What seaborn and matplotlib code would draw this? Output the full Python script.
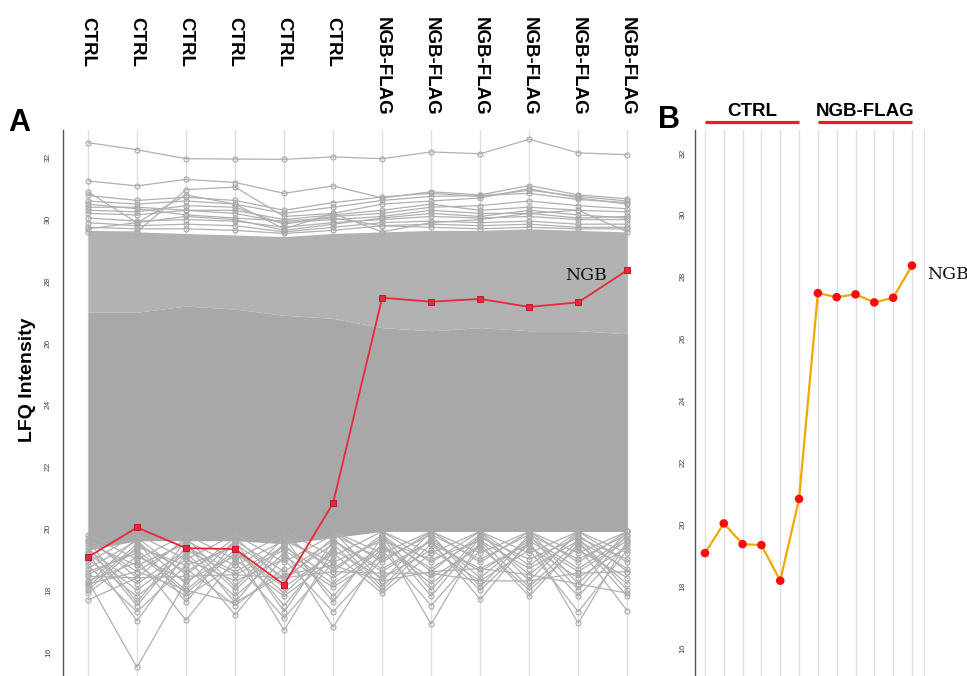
import numpy as np
import pandas as pd
import matplotlib
matplotlib.use("Agg")
import matplotlib.pyplot as plt
import seaborn as sns
from matplotlib.transforms import blended_transform_factory

# ---------------- data ----------------
samples = ["CTRL"] * 6 + ["NGB-FLAG"] * 6
pos = list(range(len(samples)))
ngb_lfq = [19.07, 20.03, 19.36, 19.33, 18.18, 20.82, 27.47, 27.34, 27.43, 27.17, 27.32, 28.36]
y_ticks = [16, 18, 20, 22, 24, 26, 28, 30, 32]

# clearly visible individual protein profiles (top of the distribution)
top1 = [32.49, 32.26, 31.97, 31.96, 31.95, 32.03, 31.97, 32.19, 32.13, 32.60, 32.16, 32.10]
top2 = [31.25, 31.09, 31.30, 31.20, 30.85, 31.09, 30.70, 30.90, 30.80, 31.10, 30.80, 30.67]
up3 = [30.78, 30.62, 30.72, 30.62, 30.30, 30.55, 30.73, 30.85, 30.75, 30.95, 30.75, 30.60]
up4 = [30.60, 30.50, 30.60, 30.50, 30.20, 30.40, 30.62, 30.75, 30.78, 30.85, 30.65, 30.55]
up5 = [29.60, 29.60, 30.97, 31.05, 30.10, 30.20, 30.50, 30.60, 30.70, 31.00, 30.70, 30.50]
up6 = [30.40, 30.40, 30.30, 30.30, 30.00, 30.15, 30.30, 30.50, 30.30, 30.40, 30.30, 30.25]
up7 = [30.20, 30.15, 30.30, 30.20, 29.90, 30.00, 30.10, 30.30, 30.20, 30.20, 30.05, 30.10]
up8 = [30.05, 29.95, 30.00, 29.95, 29.75, 29.90, 30.00, 30.10, 30.05, 30.10, 30.00, 30.00]
up9 = [29.90, 29.80, 29.85, 29.80, 29.60, 29.75, 29.90, 29.95, 29.90, 29.95, 29.85, 29.85]
up10 = [30.90, 29.90, 30.80, 30.50, 29.70, 30.20, 29.60, 29.90, 30.00, 30.20, 30.30, 29.60]
up11 = [29.75, 29.70, 29.70, 29.65, 29.55, 29.65, 29.80, 29.85, 29.80, 29.85, 29.75, 29.75]
up12 = [30.30, 30.25, 30.45, 30.40, 29.85, 30.10, 30.20, 30.40, 30.45, 30.60, 30.45, 30.35]
up13 = [29.70, 29.90, 30.10, 30.00, 29.65, 29.85, 30.05, 30.20, 30.10, 30.30, 30.15, 30.05]
up14 = [30.50, 30.35, 30.15, 30.05, 29.95, 30.05, 29.80, 29.75, 29.70, 29.75, 29.70, 29.70]
low1 = [18.45, 18.40, 18.45, 18.50, 18.40, 18.60, 18.55, 18.55, 18.30, 18.30, 18.55, 18.60]
low2 = [18.20, 18.60, 18.00, 17.60, 18.50, 18.80, 18.30, 18.60, 18.70, 18.50, 18.20, 17.90]

# dense bulk of the distribution (per sample)
band_top = [29.65, 29.60, 29.55, 29.50, 29.45, 29.55, 29.60, 29.65, 29.65, 29.70, 29.65, 29.60]
core_top = [27.00, 27.00, 27.20, 27.10, 26.90, 26.80, 26.50, 26.40, 26.50, 26.40, 26.40, 26.30]
band_bottom = [19.30, 19.60, 19.60, 19.60, 19.50, 19.70, 19.90, 19.90, 19.90, 19.90, 19.90, 19.90]

# low (imputed) values per sample and the level of the neighbouring samples
dip_depth = [
    [18.9, 18.7, 18.6, 18.5, 18.3, 18.2, 18.1, 18.0, 17.9, 17.68],
    [19.0, 18.8, 18.6, 18.4, 18.2, 18.0, 17.8, 17.6, 17.5, 17.3, 17.0, 15.5],
    [19.0, 18.8, 18.6, 18.5, 18.3, 18.2, 18.0, 17.9, 17.8, 17.6, 17.03],
    [19.0, 18.8, 18.6, 18.5, 18.3, 18.1, 18.0, 17.8, 17.6, 17.5, 17.2],
    [18.9, 18.6, 18.4, 18.3, 18.1, 17.9, 17.8, 17.5, 17.3, 17.1, 16.7],
    [19.1, 18.9, 18.7, 18.6, 18.4, 18.2, 18.1, 17.8, 17.6, 17.3, 16.8],
    [19.2, 19.0, 18.9, 18.7, 18.6, 18.4, 18.3, 18.1, 18.0, 17.9],
    [19.2, 19.0, 18.9, 18.7, 18.6, 18.4, 18.2, 18.0, 17.8, 17.5, 16.9],
    [19.2, 19.0, 18.9, 18.7, 18.6, 18.4, 18.3, 18.1, 18.0, 17.7],
    [19.2, 19.0, 18.8, 18.7, 18.5, 18.3, 18.1, 18.0, 17.8],
    [19.2, 19.0, 18.9, 18.7, 18.6, 18.4, 18.2, 18.0, 17.8, 17.3, 16.93],
    [19.2, 19.0, 18.9, 18.7, 18.6, 18.4, 18.2, 18.0, 17.8, 17.33],
]
dip_attach = [
    [19.8, 19.6, 19.2, 19.3, 18.9, 19.7, 19.5, 19.4, 19.1, 18.4],
    [19.8, 19.5, 19.6, 19.7, 19.3, 19.2, 19.0, 19.6, 19.4, 18.8, 19.2, 18.3],
    [19.8, 19.4, 19.5, 19.7, 19.1, 19.6, 19.3, 19.2, 18.8, 19.6, 19.0],
    [19.8, 19.6, 19.4, 19.3, 19.0, 19.7, 19.5, 19.2, 19.5, 18.7, 19.1],
    [19.8, 19.6, 19.5, 19.7, 19.2, 19.3, 19.0, 19.4, 19.6, 18.9, 19.3],
    [19.9, 19.6, 19.7, 19.8, 19.4, 19.3, 19.1, 19.5, 19.7, 19.0, 19.3],
    [19.9, 19.8, 19.9, 19.6, 19.6, 19.3, 19.9, 19.7, 19.5, 19.2],
    [19.9, 19.6, 19.9, 19.7, 19.8, 19.4, 19.5, 19.8, 19.7, 19.3, 19.6],
    [19.9, 19.8, 19.9, 19.5, 19.6, 19.7, 19.3, 19.8, 19.5, 19.6],
    [19.9, 19.7, 19.9, 19.6, 19.8, 19.9, 19.6, 19.4, 19.5],
    [19.9, 19.8, 19.9, 19.7, 19.6, 19.4, 19.9, 19.8, 19.5, 19.3, 19.6],
    [19.9, 19.7, 19.9, 19.6, 19.8, 19.3, 19.5, 19.7, 19.6, 19.4],
]

# ---------------- long table for grey profiles ----------------
rows = []
uid = 0
for prof in [top1, top2, up3, up4, up5, up6, up7, up8, up9, up10, up11, up12,
             up13, up14, low1, low2]:
    for j, v in enumerate(prof):
        rows.append((uid, j, v))
    uid += 1
n = len(pos)
for j in range(n):
    for v, a in zip(dip_depth[j], dip_attach[j]):
        if j > 0:
            rows.append((uid, j - 1, a))
        rows.append((uid, j, v))
        if j < n - 1:
            rows.append((uid, j + 1, a))
        uid += 1
grey_df = pd.DataFrame(rows, columns=["unit", "pos", "lfq"])

# ---------------- style ----------------
sns.set_style("white")
plt.rcParams["font.family"] = ["Liberation Sans", "DejaVu Sans"]
plt.rcParams["text.color"] = "black"

W, H = 967, 676
fig = plt.figure(figsize=(W / 100, H / 100), dpi=100)
fig.patch.set_facecolor("white")

grid_c = "#dedede"
spine_c = "#555555"


def style_axis(ax, pad):
    for s in ["top", "bottom", "right"]:
        ax.spines[s].set_visible(False)
    ax.spines["left"].set_color(spine_c)
    ax.spines["left"].set_linewidth(1.0)
    ax.set_xticks(pos)
    ax.set_xticklabels([""] * n)
    ax.tick_params(axis="x", length=0)
    ax.set_yticks(y_ticks)
    ax.set_yticklabels([str(t) for t in y_ticks], rotation=90, va="center")
    ax.tick_params(axis="y", length=4, width=0.8, color=spine_c,
                   labelsize=6, labelcolor="#444444", pad=pad)
    ax.grid(axis="x", color=grid_c, lw=1.0)
    ax.grid(axis="y", visible=False)
    ax.set_axisbelow(True)
    ax.set_xlabel("")
    ax.set_ylabel("")


# ---------------- panel A ----------------
axA = fig.add_axes([63 / W, 0, (642 - 63) / W, (H - 130) / H])
axA.fill_between(pos, band_bottom, core_top, color="#a8a8a8", lw=0, zorder=1.5)
axA.fill_between(pos, core_top, band_top, color="#b2b2b2", lw=0, zorder=1.5)
sns.lineplot(data=grey_df, x="pos", y="lfq", units="unit", estimator=None,
             color="#b0b0b0", lw=0.9, marker="o", markersize=3.6,
             markerfacecolor="none", markeredgecolor="#a8a8a8",
             markeredgewidth=0.8, ax=axA, legend=False, zorder=2)
sns.lineplot(x=pos, y=ngb_lfq, color="#e8283c", lw=1.3, marker="s",
             markersize=4, markerfacecolor="#e8283c", markeredgecolor="#c41a30",
             ax=axA, zorder=4)
axA.set_xlim(-0.51, 11.3)
axA.set_ylim(15.22, 32.9)
style_axis(axA, pad=4)
axA.annotate("NGB", xy=(pos[-1], ngb_lfq[-1]), xytext=(-14.5, -3.6),
             textcoords="offset points", ha="right", va="center",
             fontsize=12.5, family="DejaVu Serif", color="#111111")

trA = blended_transform_factory(axA.transData, fig.transFigure)
for x, lab in zip(pos, samples):
    axA.text(x, 1 - 17 / H, lab, transform=trA, rotation=270, ha="center",
             va="top", fontsize=13.5, fontweight="bold", color="black")

fig.text(8 / W, 1 - 131 / H, "A", fontsize=22, fontweight="bold",
         va="baseline", color="black")
fig.text(27 / W, 1 - 380 / H, "LFQ Intensity", rotation=90, ha="center",
         va="center", fontsize=14, fontweight="bold", color="black")

# ---------------- panel B ----------------
axB = fig.add_axes([695 / W, 0, (924 - 695) / W, (H - 130) / H])
sns.lineplot(x=pos, y=ngb_lfq, color="#f0a800", lw=1.6, ax=axB, zorder=3)
sns.scatterplot(x=pos, y=ngb_lfq, color="#ff0a0a", s=38, edgecolor="none",
                ax=axB, zorder=4, legend=False)
axB.set_xlim(-0.53, 11.64)
axB.set_ylim(15.1, 32.74)
style_axis(axB, pad=2)
axB.spines["right"].set_visible(True)
axB.spines["right"].set_color(grid_c)
axB.annotate("NGB", xy=(pos[-1], ngb_lfq[-1]), xytext=(10.8, -6.3),
             textcoords="offset points", ha="left", va="center",
             fontsize=12.5, family="DejaVu Serif", color="#111111")

trB = blended_transform_factory(axB.transData, axB.transAxes)
groups = ["CTRL", "NGB-FLAG"]
for g in groups:
    idx = [i for i, s in enumerate(samples) if s == g]
    x0, x1 = idx[0], idx[-1]
    axB.plot([x0, x1], [1.0147, 1.0147], color="#ee1c1c", lw=2.3,
             transform=trB, clip_on=False, solid_capstyle="butt")
    axB.text((x0 + x1) / 2, 1.034, g, transform=trB, ha="center",
             va="center", fontsize=13.5, fontweight="bold", color="black")

fig.text(658 / W, 1 - 128 / H, "B", fontsize=22, fontweight="bold",
         va="baseline", color="black")

fig.savefig("out.png", dpi=100, facecolor="white")
